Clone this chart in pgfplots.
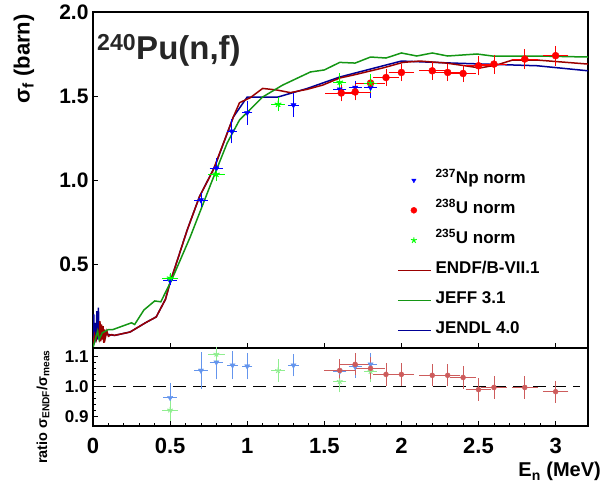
\documentclass[border=0pt]{standalone}
\usepackage{fontspec}
\setmainfont{Liberation Sans}
\usepackage{pgfplots}
\usepackage{pgfplotstable}
\pgfplotsset{compat=1.18}

\definecolor{endf}{RGB}{155,0,0}
\definecolor{jeff}{RGB}{20,150,20}
\definecolor{jendl}{RGB}{0,0,150}
\definecolor{npblue}{RGB}{0,0,255}
\definecolor{ured}{RGB}{255,0,0}
\definecolor{ugreen}{RGB}{0,255,0}
\definecolor{lblue}{RGB}{100,149,237}
\definecolor{lgreen}{RGB}{144,238,144}
\definecolor{lred}{RGB}{205,92,92}

% 237Np normalised
\pgfplotstableread{
E s ex ey
0.50 0.400 0.03 0.015
0.70 0.880 0.03 0.030
0.80 1.070 0.03 0.050
0.90 1.290 0.02 0.060
1.00 1.400 0.02 0.060
1.30 1.446 0.02 0.060
1.60 1.540 0.03 0.030
1.70 1.550 0.03 0.030
1.80 1.550 0.03 0.050
}\npdata
% 238U normalised
\pgfplotstableread{
E s ex ey
1.61 1.518 0.09 0.038
1.70 1.524 0.09 0.038
1.80 1.577 0.08 0.040
1.90 1.610 0.07 0.040
2.00 1.640 0.07 0.040
2.20 1.650 0.07 0.040
2.30 1.640 0.07 0.040
2.40 1.634 0.07 0.040
2.50 1.680 0.07 0.045
2.60 1.690 0.07 0.045
2.80 1.720 0.07 0.045
3.00 1.740 0.07 0.047
}\udata
% 235U normalised
\pgfplotstableread{
E s ex ey
0.50 0.417 0.04 0.020
0.80 1.035 0.04 0.030
1.20 1.452 0.03 0.030
1.60 1.583 0.03 0.040
1.80 1.577 0.03 0.040
}\ufivedata
% ratios
\pgfplotstableread{
E r ex ey
0.50 0.963 0.03 0.043
0.70 1.053 0.03 0.053
0.80 1.080 0.03 0.050
0.905 1.070 0.02 0.040
1.00 1.067 0.02 0.037
1.30 1.070 0.02 0.030
1.60 1.050 0.03 0.030
1.70 1.065 0.03 0.030
1.80 1.073 0.03 0.030
}\npratio
\pgfplotstableread{
E r ex ey
0.50 0.923 0.04 0.030
0.80 1.107 0.04 0.025
1.20 1.053 0.03 0.030
1.60 1.017 0.03 0.030
1.80 1.050 0.03 0.030
}\ufiveratio
\pgfplotstableread{
E r ex ey
1.60 1.053 0.09 0.030
1.70 1.073 0.09 0.030
1.80 1.060 0.08 0.030
1.90 1.040 0.07 0.030
2.00 1.040 0.07 0.030
2.20 1.037 0.07 0.030
2.30 1.037 0.07 0.030
2.40 1.030 0.07 0.030
2.50 0.990 0.07 0.030
2.60 0.997 0.07 0.030
2.80 0.997 0.07 0.030
3.00 0.983 0.07 0.030
}\uratio

\pgfplotsset{
  errbars/.style={
    error bars/x dir=both, error bars/x explicit,
    error bars/y dir=both, error bars/y explicit,
    error bars/error bar style={line width=0.8pt},
    error bars/error mark options={line width=0.8pt, mark size=2pt}
  },
  lineimg/.style={legend image code/.code={\draw[##1] (0pt,0pt) -- (33pt,0pt);}},
  markimg/.style={legend image code/.code={\draw[##1] plot[only marks] coordinates {(16pt,0pt)};}},
}

\begin{document}
\begin{tikzpicture}
\path[use as bounding box] (0pt,0pt) rectangle (603pt,484pt);

\begin{axis}[
  at={(93pt,136pt)}, anchor=south west, scale only axis,
  width=495pt, height=336pt,
  xmin=0, xmax=3.21, ymin=0, ymax=2.0,
  axis line style={line width=1.8pt},
  tick pos=left, tick align=inside,
  major tick length=5pt,
  every tick/.style={black, line width=0.8pt},
  xtick={0,0.5,1,1.5,2,2.5,3}, xticklabels={},
  ytick={0.5,1,1.5,2}, yticklabels={0.5,1.0,1.5,2.0},
  yticklabel style={font=\fontsize{21}{21}\selectfont\bfseries, xshift=-1pt},
  legend style={draw=none, fill=none, at={(0.614,0.522)}, anchor=north west,
    inner sep=0pt, row sep=15pt,
    font=\fontsize{17}{17}\selectfont\bfseries,
    nodes={inner sep=0pt, text height=11pt, text depth=4pt},
    /tikz/every odd column/.append style={column sep=4pt}},
  legend cell align=left,
]
% evaluations
\addplot[jendl, line width=1.5pt, forget plot] coordinates {
(0.000,0.05)(0.005,0.20)(0.010,0.03)(0.015,0.15)(0.020,0.04)(0.025,0.22)(0.030,0.05)(0.035,0.24)(0.040,0.06)(0.045,0.12)(0.050,0.07)(0.060,0.10)(0.080,0.08)(0.10,0.08)(0.14,0.075)(0.24,0.095)(0.34,0.15)(0.41,0.185)(0.47,0.29)(0.50,0.39)(0.61,0.70)(0.69,0.90)(0.79,1.08)(0.91,1.375)(1.00,1.494)(1.20,1.494)(1.39,1.545)(1.60,1.613)(2.00,1.708)(2.33,1.696)(2.88,1.68)(3.21,1.65)};
\addplot[endf, line width=1.5pt, forget plot] coordinates {
(0.000,0.02)(0.010,0.08)(0.020,0.05)(0.030,0.10)(0.040,0.06)(0.045,0.16)(0.050,0.04)(0.055,0.14)(0.060,0.05)(0.065,0.13)(0.070,0.03)(0.075,0.11)(0.080,0.06)(0.090,0.10)(0.100,0.07)(0.12,0.08)(0.14,0.075)(0.24,0.095)(0.34,0.15)(0.41,0.185)(0.47,0.29)(0.50,0.39)(0.61,0.70)(0.69,0.90)(0.78,1.06)(0.91,1.375)(0.95,1.46)(1.02,1.49)(1.10,1.545)(1.19,1.536)(1.28,1.52)(1.39,1.54)(1.49,1.565)(1.60,1.607)(1.69,1.625)(1.88,1.667)(2.01,1.70)(2.12,1.708)(2.29,1.696)(2.51,1.667)(2.62,1.685)(2.72,1.714)(2.88,1.714)(3.21,1.69)};
\addplot[jeff, line width=1.5pt, forget plot] coordinates {
(0.00,0.00)(0.02,0.07)(0.03,0.10)(0.04,0.05)(0.06,0.09)(0.08,0.10)(0.10,0.11)(0.13,0.11)(0.25,0.15)(0.27,0.14)(0.33,0.226)(0.40,0.28)(0.44,0.275)(0.51,0.405)(0.63,0.66)(0.77,0.99)(0.87,1.22)(0.95,1.357)(1.10,1.494)(1.23,1.565)(1.41,1.643)(1.50,1.655)(1.60,1.70)(1.70,1.696)(1.80,1.732)(1.90,1.726)(2.00,1.756)(2.10,1.738)(2.20,1.756)(2.30,1.738)(2.49,1.75)(2.59,1.738)(2.88,1.738)(3.21,1.732)};
% measurements
\addplot[only marks, mark=triangle*, mark options={rotate=180}, mark size=3pt, npblue, errbars, forget plot]
  table[x=E, y=s, x error=ex, y error=ey] {\npdata};
\addplot[only marks, mark=*, mark size=3.5pt, ured, errbars, forget plot]
  table[x=E, y=s, x error=ex, y error=ey] {\udata};
\addplot[only marks, mark=star, mark size=3.5pt, ugreen, line width=1pt, errbars, forget plot]
  table[x=E, y=s, x error=ex, y error=ey] {\ufivedata};
% legend
\addlegendimage{markimg, only marks, mark=triangle*, mark options={rotate=180}, mark size=2.5pt, npblue}
\addlegendentry{\textsuperscript{237}Np norm}
\addlegendimage{markimg, only marks, mark=*, mark size=3pt, ured}
\addlegendentry{\textsuperscript{238}U norm}
\addlegendimage{markimg, only marks, mark=star, mark size=3pt, ugreen, line width=1pt}
\addlegendentry{\textsuperscript{235}U norm}
\addlegendimage{lineimg, endf, line width=1.5pt}
\addlegendentry{ENDF/B-VII.1}
\addlegendimage{lineimg, jeff, line width=1.5pt}
\addlegendentry{JEFF 3.1}
\addlegendimage{lineimg, jendl, line width=1.5pt}
\addlegendentry{JENDL 4.0}
\end{axis}

\begin{axis}[
  at={(93pt,58pt)}, anchor=south west, scale only axis,
  width=495pt, height=78pt,
  xmin=0, xmax=3.21, ymin=0.87, ymax=1.127,
  axis line style={line width=1.8pt},
  tick pos=left, tick align=inside,
  major tick length=5pt, minor tick length=3pt,
  every tick/.style={black, line width=0.8pt},
  xtick={0,0.5,1,1.5,2,2.5,3}, xticklabels={0,0.5,1,1.5,2,2.5,3},
  minor x tick num=4,
  xticklabel style={font=\fontsize{22}{22}\selectfont\bfseries, yshift=-9pt},
  ytick={0.9,1.0,1.1}, yticklabels={0.9,1.0,1.1},
  minor y tick num=4,
  yticklabel style={font=\fontsize{17}{17}\selectfont\bfseries, xshift=-1pt},
]
\addplot[black, line width=1.5pt, dash pattern=on 13pt off 7pt] coordinates {(0,1)(3.16,1)};
\addplot[only marks, mark=triangle*, mark options={rotate=180}, mark size=3pt, lblue, errbars]
  table[x=E, y=r, x error=ex, y error=ey] {\npratio};
\addplot[only marks, mark=star, mark size=3pt, lgreen, line width=1pt, errbars]
  table[x=E, y=r, x error=ex, y error=ey] {\ufiveratio};
\addplot[only marks, mark=*, mark size=2.5pt, lred, errbars]
  table[x=E, y=r, x error=ex, y error=ey] {\uratio};
\end{axis}

% texts
\node[anchor=base west, inner sep=0pt, font=\fontsize{33}{33}\selectfont\bfseries, text=black!85]
  at (97pt,424pt) {\textsuperscript{240}Pu(n,f)};
\node[rotate=90, anchor=center, inner sep=0pt, font=\fontsize{22}{22}\selectfont\bfseries]
  at (24pt,425pt) {σ\textsubscript{f} (barn)};
\node[rotate=90, anchor=center, inner sep=0pt, font=\fontsize{14.5}{14.5}\selectfont\bfseries]
  at (43pt,77pt) {ratio σ\textsubscript{ENDF}/σ\textsubscript{meas}};
\node[anchor=base east, inner sep=0pt, font=\fontsize{20}{20}\selectfont\bfseries]
  at (601pt,7pt) {E\textsubscript{n} (MeV)};
\end{tikzpicture}
\end{document}
